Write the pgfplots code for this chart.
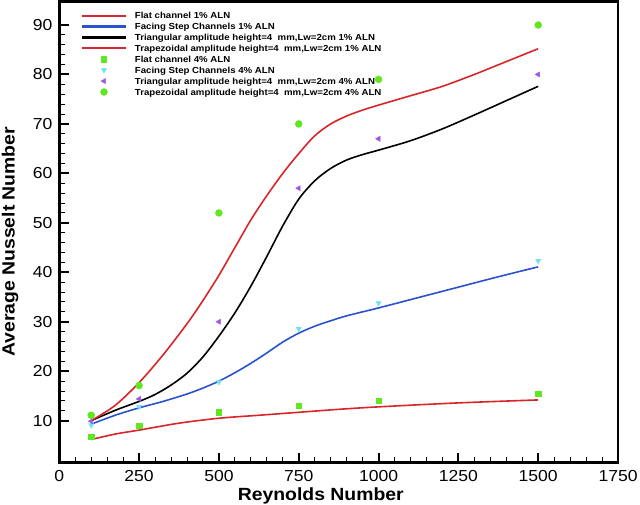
\documentclass[border=0pt]{standalone}
\usepackage{fontspec}
\setmainfont{Liberation Sans}[FakeStretch=1.1]
\usepackage{pgfplots}
\pgfplotsset{compat=1.18}
\definecolor{cred}{HTML}{D9252A}
\definecolor{cblue}{HTML}{2A52D0}
\definecolor{cgreen}{HTML}{5FE81F}
\definecolor{ccyan}{HTML}{6FE3E8}
\definecolor{cpurple}{HTML}{9B55E6}
\begin{document}
\begin{tikzpicture}
\useasboundingbox (0,0) rectangle (640bp,505bp);
\begin{axis}[
  at={(59.3bp,42.3bp)}, anchor=south west,
  scale only axis, width=558.7bp, height=461.2bp,
  xmin=0, xmax=1750, ymin=1.51, ymax=94.75,
  xtick={0,250,...,1750}, ytick={10,20,...,90},
  minor x tick num=4, minor y tick num=4,
  tick align=inside, xtick pos=bottom, ytick pos=left,
  axis line style={line width=2.4bp},
  major tick style={line width=2bp, black},
  minor tick style={line width=1bp, black},
  major tick length=10bp, minor tick length=6bp,
  /pgf/number format/assume math mode=true,
  /pgf/number format/set thousands separator={},
  tick label style={font=\fontsize{16}{16}\selectfont},
  yticklabel style={xshift=-3.3bp},
  xticklabel style={yshift=-4bp},
  xlabel={Reynolds Number}, ylabel={Average Nusselt Number},
  label style={font=\fontsize{17.7}{18}\selectfont\bfseries},
  xlabel style={at={(axis description cs:0.468,-0.071)}, anchor=center},
  ylabel style={at={(axis description cs:-0.088,0.479)}, anchor=center, rotate=0},
  legend image code/.code={\draw[mark repeat=2,mark phase=2,#1] plot coordinates {(0bp,0bp) (22bp,0bp) (44bp,0bp)};},
  legend image post style={line width=2.2bp},
  legend cell align=left,
  legend style={at={(axis description cs:0,1)}, anchor=north west,
    xshift=21.4bp, yshift=-8.55bp, draw=none, fill=none,
    inner sep=0pt, row sep=0pt, column sep=7.8bp,
    font=\fontsize{8.8}{10.9}\selectfont\bfseries,
    nodes={inner sep=0pt, text height=8.6bp, text depth=2.3bp}},
]
\addplot[cred, line width=1.6bp, smooth, tension=0.5] coordinates {
 (100,6.2) (175,7.3) (250,8.1) (375,9.5) (500,10.5) (625,11.1) (750,11.7)
 (875,12.3) (1000,12.8) (1250,13.6) (1500,14.2)};
\addlegendentry{Flat channel 1\% ALN}
\addplot[cblue, line width=1.6bp, smooth, tension=0.5] coordinates {
 (100,9.3) (175,11.1) (250,12.6) (325,13.9) (400,15.4) (450,16.6) (500,18.0)
 (550,19.7) (600,21.6) (650,23.7) (700,25.9) (750,27.7) (800,29.1) (850,30.2)
 (900,31.2) (1000,32.8) (1125,34.9) (1250,37.0) (1375,39.1) (1500,41.1)};
\addlegendentry{Facing Step Channels 1\% ALN}
\addplot[black, line width=1.6bp, smooth, tension=0.5] coordinates {
 (100,10.0) (175,12.1) (250,13.9) (300,15.3) (350,17.2) (400,19.6) (450,22.9)
 (500,27.1) (550,31.8) (600,37.2) (650,43.2) (700,49.4) (750,54.8) (800,58.5)
 (850,61.0) (900,62.7) (950,63.8) (1000,64.7) (1100,66.6) (1200,69.0)
 (1300,71.8) (1400,74.7) (1500,77.6)};
\addlegendentry{Triangular amplitude height=4\ \ mm,Lw=2cm 1\% ALN}
\addplot[cred, line width=1.6bp, smooth, tension=0.5] coordinates {
 (100,10.0) (175,13.1) (250,17.7) (325,23.3) (400,29.6) (450,34.3) (500,39.4)
 (550,45.0) (600,50.6) (650,55.5) (700,60.0) (750,64.0) (800,67.6) (850,70.0)
 (900,71.6) (950,72.8) (1000,73.8) (1100,75.7) (1200,77.6) (1300,80.0)
 (1400,82.6) (1500,85.2)};
\addlegendentry{Trapezoidal amplitude height=4\ \ mm,Lw=2cm 1\% ALN}
\addplot[only marks, mark=square*, mark size=2.6bp, cgreen, mark options={line width=0.4pt}] coordinates {
 (100,6.8) (250,9.05) (500,11.7) (750,13.0) (1000,14.0) (1500,15.5)};
\addlegendentry{Flat channel 4\% ALN}
\addplot[only marks, mark=triangle*, mark size=3bp, ccyan, mark options={rotate=180, line width=0.4pt}] coordinates {
 (100,9.1) (250,12.8) (500,17.8) (750,28.6) (1000,33.8) (1500,42.3)};
\addlegendentry{Facing Step Channels 4\% ALN}
\addplot[only marks, mark=triangle*, mark size=3bp, cpurple, mark options={rotate=90, line width=0.4pt}] coordinates {
 (100,9.9) (250,14.4) (500,30.0) (750,57.0) (1000,67.0) (1500,80.0)};
\addlegendentry{Triangular amplitude height=4\ \ mm,Lw=2cm 4\% ALN}
\addplot[only marks, mark=*, mark size=3.5bp, cgreen, mark options={line width=0.4pt}] coordinates {
 (100,11.1) (250,17.1) (500,52.0) (750,70.0) (1000,79.0) (1500,90.0)};
\addlegendentry{Trapezoidal amplitude height=4\ \ mm,Lw=2cm 4\% ALN}
\end{axis}
\end{tikzpicture}
\end{document}
